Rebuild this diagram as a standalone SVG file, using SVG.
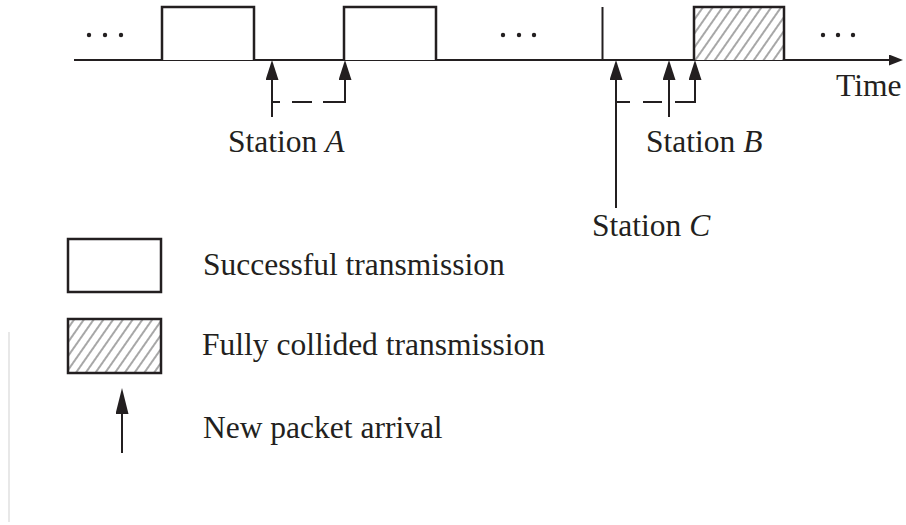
<svg xmlns="http://www.w3.org/2000/svg" width="906" height="525" viewBox="0 0 906 525">
<style>
  .ln { stroke: #231f20; stroke-width: 2; fill: none; }
  .box { stroke: #231f20; stroke-width: 2.5; fill: #fff; }
  .hbox { stroke: #231f20; stroke-width: 2.5; fill: url(#hatch); }
  .dot { fill: #231f20; }
  .t { font-family: "Liberation Serif", "Times New Roman", serif; font-size: 31.5px; fill: #231f20; }
  .it { font-style: italic; }
</style>
<defs>
  <pattern id="hatch" patternUnits="userSpaceOnUse" width="8" height="8" patternTransform="rotate(35)">
    <rect width="8" height="8" fill="#fff"/>
    <line x1="4" y1="0" x2="4" y2="8" stroke="#6d6d6d" stroke-width="1.2"/>
  </pattern>
  <marker id="arr" markerUnits="userSpaceOnUse" markerWidth="20" markerHeight="13" refX="14" refY="6.5" orient="auto">
    <path d="M0,0 L20,6.5 L0,13 z" fill="#231f20"/>
  </marker>
  <marker id="arrL" markerUnits="userSpaceOnUse" markerWidth="26" markerHeight="13" refX="20" refY="6.5" orient="auto">
    <path d="M0,0 L26,6.5 L0,13 z" fill="#231f20"/>
  </marker>
  <marker id="axarr" markerUnits="userSpaceOnUse" markerWidth="14" markerHeight="11" refX="8" refY="5.5" orient="auto">
    <path d="M0,0 L14,5.5 L0,11 z" fill="#231f20"/>
  </marker>
</defs>

<rect width="906" height="525" fill="#fff"/>

<g id="timeline">
  <line class="ln" x1="74" y1="60" x2="897" y2="60" marker-end="url(#axarr)"/>
  <text class="t" x="836" y="96">Time</text>
</g>

<g id="ellipsis-left">
  <circle class="dot" cx="89" cy="35" r="2.2"/>
  <circle class="dot" cx="105" cy="35" r="2.2"/>
  <circle class="dot" cx="121" cy="35" r="2.2"/>
</g>
<g id="ellipsis-mid">
  <circle class="dot" cx="503" cy="35" r="2.2"/>
  <circle class="dot" cx="519" cy="35" r="2.2"/>
  <circle class="dot" cx="534" cy="35" r="2.2"/>
</g>
<g id="ellipsis-right">
  <circle class="dot" cx="823" cy="35" r="2.2"/>
  <circle class="dot" cx="838" cy="35" r="2.2"/>
  <circle class="dot" cx="853" cy="35" r="2.2"/>
</g>

<g id="tx1"><path class="box" d="M162,60 V7 H254 V60"/></g>
<g id="tx2"><path class="box" d="M344,60 V7 H436 V60"/></g>
<g id="tx-collided"><path class="hbox" d="M694,60 V7 H784 V60"/></g>
<g id="marker-c"><line class="ln" x1="602.5" y1="7" x2="602.5" y2="60"/></g>

<g id="connectors">
  <!-- Station A -->
  <line class="ln" x1="272" y1="117" x2="272" y2="66" marker-end="url(#arr)"/>
  <path class="ln" d="M323,102 H345 V66" marker-end="url(#arr)"/>
  <line class="ln" x1="292" y1="102" x2="312" y2="102"/>
  <line class="ln" x1="272" y1="102" x2="280" y2="102"/>
  <!-- Station C -->
  <line class="ln" x1="616" y1="208" x2="616" y2="66" marker-end="url(#arr)"/>
  <line class="ln" x1="616" y1="102" x2="630" y2="102"/>
  <line class="ln" x1="643" y1="102" x2="662" y2="102"/>
  <!-- Station B -->
  <line class="ln" x1="669" y1="117" x2="669" y2="66" marker-end="url(#arr)"/>
  <path class="ln" d="M675,102 H695 V66" marker-end="url(#arr)"/>
</g>

<g id="label-a"><text class="t" x="228" y="152">Station <tspan class="it">A</tspan></text></g>
<g id="label-b"><text class="t" x="646" y="152">Station <tspan class="it">B</tspan></text></g>
<g id="label-c"><text class="t" x="592" y="236">Station <tspan class="it">C</tspan></text></g>

<g id="legend-success">
  <rect class="box" x="68" y="239" width="93" height="53"/>
  <text class="t" x="203" y="275">Successful transmission</text>
</g>
<g id="legend-collided">
  <rect class="hbox" x="68" y="319" width="93" height="54"/>
  <text class="t" x="202" y="355">Fully collided transmission</text>
</g>
<g id="legend-arrival">
  <line class="ln" x1="122" y1="453" x2="122" y2="394" marker-end="url(#arrL)"/>
  <text class="t" x="203" y="438">New packet arrival</text>
</g>

<line x1="9" y1="332" x2="9" y2="522" stroke="#e0e0e0" stroke-width="1.5"/>
</svg>
